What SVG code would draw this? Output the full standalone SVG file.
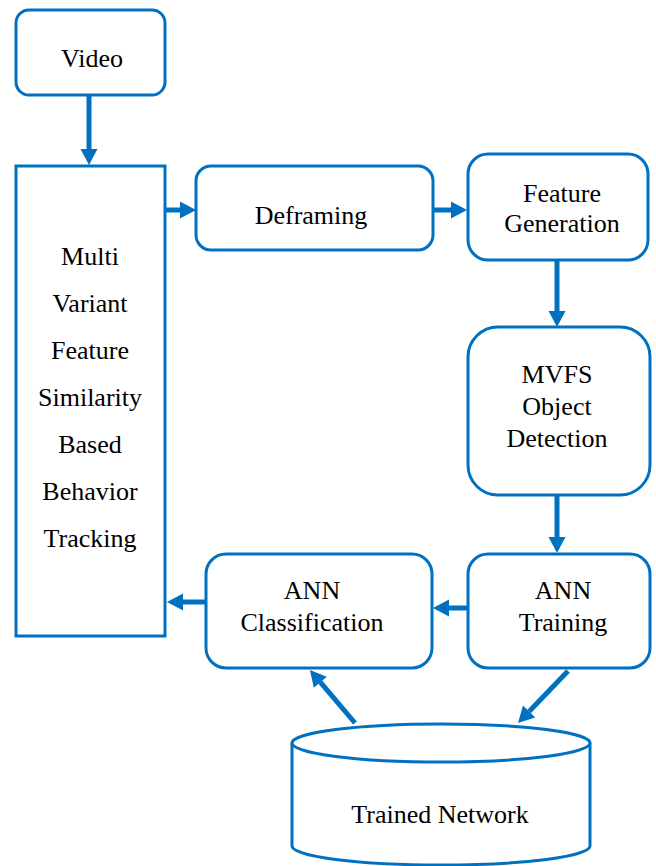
<svg xmlns="http://www.w3.org/2000/svg" width="656" height="866" viewBox="0 0 656 866">
<defs>
<style>
.box{fill:#fff;stroke:#0070C0;stroke-width:3}
.t{font-size:26px;fill:#000;text-anchor:middle}
.c{stroke:#0070C0;stroke-width:5;fill:none;marker-end:url(#ah)}
</style>
<marker id="ah" markerUnits="userSpaceOnUse" markerWidth="16" markerHeight="17" refX="0" refY="8.5" orient="auto" overflow="visible">
<path d="M0,0 L16,8.5 L0,17 z" fill="#0070C0"/>
</marker>
</defs>
<rect width="656" height="866" fill="#fff"/>
<g id="connectors">
<line class="c" x1="89" y1="95" x2="89" y2="149"/>
<line class="c" x1="165" y1="210" x2="180" y2="210"/>
<line class="c" x1="433" y1="210" x2="451" y2="210"/>
<line class="c" x1="557" y1="260" x2="557" y2="311"/>
<line class="c" x1="557" y1="495" x2="557" y2="537"/>
<line class="c" x1="468" y1="608" x2="449" y2="608"/>
<line class="c" x1="206" y1="602" x2="183" y2="602"/>
<line class="c" x1="355" y1="723" x2="320.3" y2="682.2"/>
<line class="c" x1="568" y1="671" x2="529.1" y2="711.5"/>
</g>
<g font-family="Liberation Serif, Tinos, DejaVu Serif, serif">
<g id="video">
<rect class="box" x="16" y="10" width="149" height="85" rx="13"/>
<text class="t" x="92" y="67">Video</text>
</g>
<g id="mvfsbt">
<rect class="box" x="16" y="166" width="149" height="470"/>
<text class="t" x="90" y="265">Multi</text>
<text class="t" x="90" y="312">Variant</text>
<text class="t" x="90" y="359">Feature</text>
<text class="t" x="90" y="406">Similarity</text>
<text class="t" x="90" y="453">Based</text>
<text class="t" x="90" y="500">Behavior</text>
<text class="t" x="90" y="547">Tracking</text>
</g>
<g id="deframing">
<rect class="box" x="196" y="166" width="237" height="84" rx="15"/>
<text class="t" x="311" y="224">Deframing</text>
</g>
<g id="featuregen">
<rect class="box" x="468" y="154" width="180" height="106" rx="20"/>
<text class="t" x="562" y="202">Feature</text>
<text class="t" x="562" y="232">Generation</text>
</g>
<g id="mvfs">
<rect class="box" x="468" y="327" width="182" height="168" rx="30"/>
<text class="t" x="557" y="383">MVFS</text>
<text class="t" x="557" y="415">Object</text>
<text class="t" x="557" y="447">Detection</text>
</g>
<g id="anntraining">
<rect class="box" x="468" y="554" width="182" height="114" rx="20"/>
<text class="t" x="563" y="599">ANN</text>
<text class="t" x="563" y="631">Training</text>
</g>
<g id="annclass">
<rect class="box" x="206" y="554" width="226" height="114" rx="20"/>
<text class="t" x="312" y="599">ANN</text>
<text class="t" x="312" y="631">Classification</text>
</g>
<g id="trainednet">
<path class="box" d="M292,743 L292,846 A149,19 0 0 0 590,846 L590,743"/>
<ellipse class="box" cx="441" cy="743" rx="149" ry="19"/>
<text class="t" x="440" y="823">Trained Network</text>
</g>
</g>
</svg>
